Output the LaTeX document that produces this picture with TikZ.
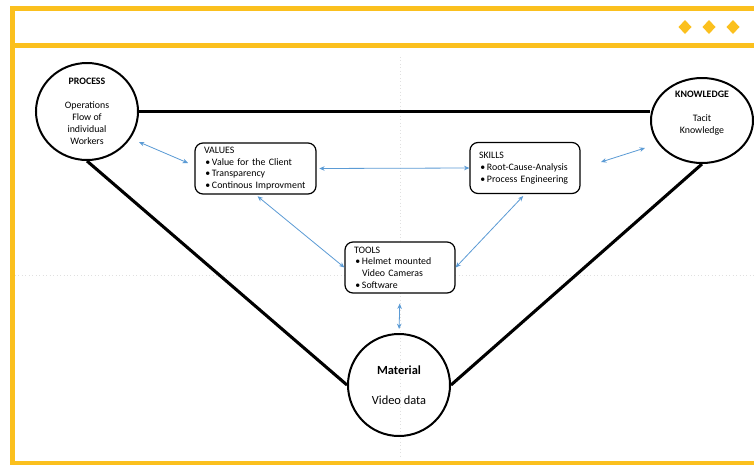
\documentclass[tikz,border=0pt]{standalone}
\usepackage{fontspec}
\setmainfont{Carlito}
\usetikzlibrary{arrows.meta,shapes.geometric}
\definecolor{frameyellow}{HTML}{FBC01E}
\definecolor{linkblue}{HTML}{5B9BD5}
\newcommand\bitem{\hspace*{1pt}\makebox[5pt][l]{•}}
\newcommand\bcont{\hspace*{6pt}}
\newcommand\cardfont{\fontsize{7.4}{8.8}\selectfont\hyphenpenalty=10000\relax}

\begin{document}
\begin{tikzpicture}[x=0.75pt,y=-0.75pt,
  circ/.style={ellipse,draw=black,line width=1.5pt,minimum width=76.5pt,minimum height=76.5pt,
    inner sep=0pt,align=center,font=\fontsize{7.4}{9}\selectfont},
  label/.style={inner sep=0pt,align=center,font=\fontsize{7.4}{9}\selectfont},
  card/.style={rectangle,draw=black,line width=0.9pt,rounded corners=6pt,fill=white,
    minimum height=38.25pt,inner xsep=6.75pt,inner ysep=0pt,align=left,
    font=\cardfont},
  side/.style={line width=2.3pt},
  link/.style={draw=linkblue,line width=0.6pt,
    {Stealth[length=4pt,width=3.4pt]}-{Stealth[length=4pt,width=3.4pt]}},
  guide/.style={draw=black!12,line width=0.6pt,dotted},
]
\useasboundingbox (0,0) rectangle (754,465);
\fill[white] (0,0) rectangle (754,465);

% faint layout guides
\draw[guide] (400,57) -- (400,457);
\draw[guide] (15,275) -- (754,275);

% yellow frame
\fill[frameyellow] (10,6) rectangle (754,11);
\fill[frameyellow] (10,43) rectangle (754,48);
\fill[frameyellow] (10,6) rectangle (15,465);
\fill[frameyellow] (10,461) rectangle (754,465);

% header ornaments
\foreach \cx in {685,709,733}
  \fill[frameyellow] (\cx-6.5,27) -- (\cx,20) -- (\cx+6.5,27) -- (\cx,34) -- cycle;

% corner shapes
\node[circ,minimum height=72.75pt] (process) at (87,111.5)
  {\textbf{PROCESS}\\[9pt]Operations\\Flow of\\individual\\Workers};
\node[circ,minimum height=63.75pt] (knowledge) at (702,120.5) {};
\node[label] (knowledge-text) at (702,113.5)
  {\textbf{KNOWLEDGE}\\[9pt]Tacit\\Knowledge};
\node[circ,font=\fontsize{9.3}{11.2}\selectfont] (material) at (399,385)
  {\textbf{Material}\\[11.3pt]Video data};

% triangle
\draw[side] (process.east) -- (process.east -| knowledge.west);
\draw[side] (process.south) -- (material.west);
\draw[side] (knowledge.south) -- (material.east);

% inner cards
\node[card,text width=77.25pt] (values) at (255.5,168.5)
  {VALUES\\\bitem Value for the Client\\\bitem Transparency\\\bitem \mbox{Continous Improvment}};
\node[card,text width=69pt] (skills) at (525,168)
  {SKILLS\\\bitem Root-Cause-Analysis\\\bitem Process Engineering};
\node[card,text width=69pt] (tools) at (400,267.5)
  {TOOLS\\\bitem Helmet mounted\\\bcont Video Cameras\\\bitem Software};

% links
\coordinate (pv-a) at (139,142);
\coordinate (pv-b) at (188,163);
\coordinate (sk-a) at (601,162);
\coordinate (sk-b) at (645,148);
\draw[link] (pv-a) -- (pv-b);
\draw[link] (sk-a) -- (sk-b);
\draw[link,shorten <=2pt] (values.east) -- (skills.west);
\draw[link,shorten <=2pt] (values.south) -- (tools.west);
\draw[link,shorten <=2pt] (skills.south) -- (tools.east);
\draw[link,shorten <=7.5pt,shorten >=3pt] (tools.south) -- (material.north);
\end{tikzpicture}
\end{document}
